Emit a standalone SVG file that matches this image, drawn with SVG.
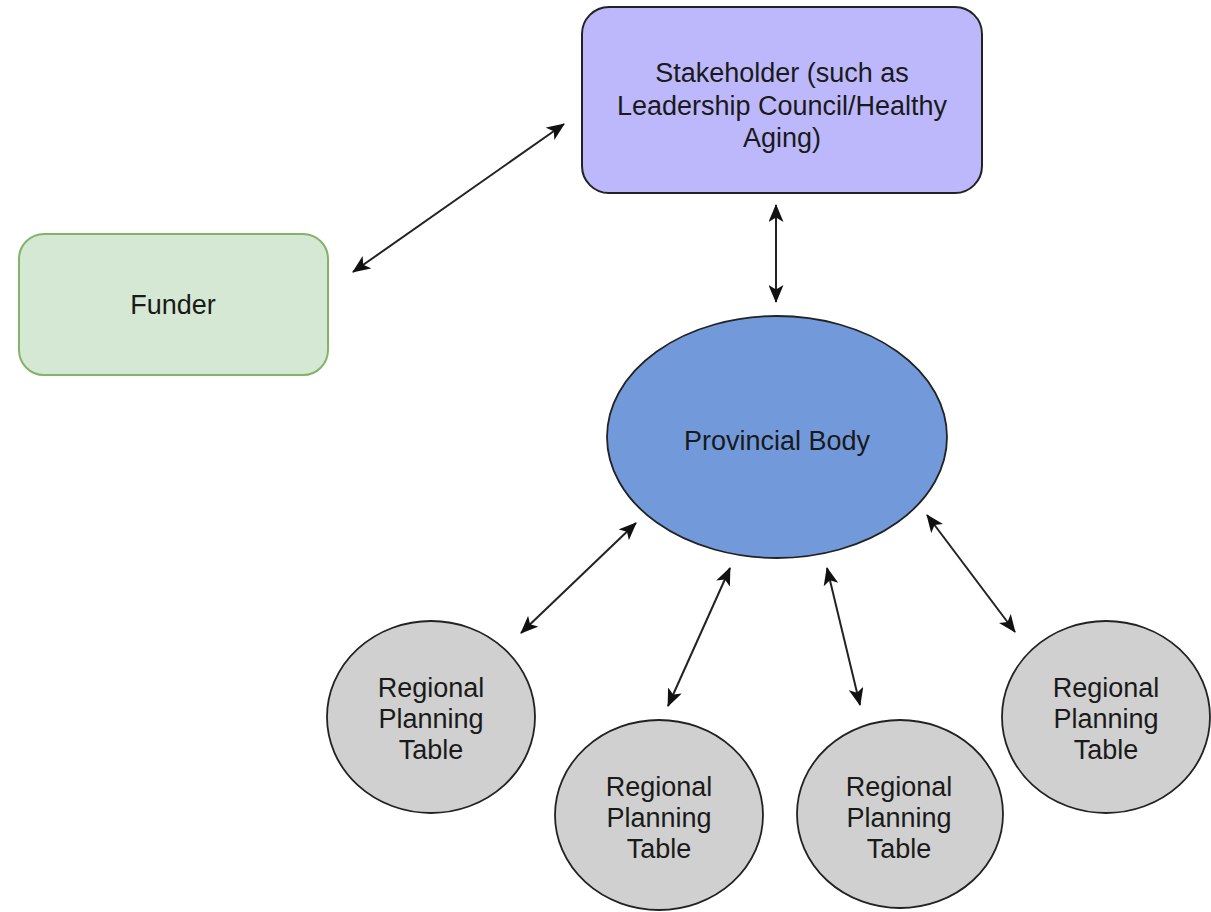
<svg xmlns="http://www.w3.org/2000/svg" width="1211" height="912" viewBox="0 0 1211 912">
<style>
text{font-family:"Liberation Sans",Arial,Helvetica,sans-serif;font-size:27px;fill:#1a1a1a;text-anchor:middle}
.conn line{stroke:#222;stroke-width:2;marker-start:url(#ah);marker-end:url(#ah)}
.rpt{fill:#d0d0d0;stroke:#222;stroke-width:1.8}
</style>
<defs>
<marker id="ah" viewBox="0 0 18 15" refX="17" refY="7.5" markerWidth="18" markerHeight="15" markerUnits="userSpaceOnUse" orient="auto-start-reverse">
<path d="M0,0 L18,7.5 L0,15 L4.5,7.5 Z" fill="#111"/>
</marker>
</defs>
<rect width="1211" height="912" fill="#fff"/>
<g id="stakeholder">
<rect x="582" y="7" width="400" height="186" rx="27" ry="27" fill="#bcb8fb" stroke="#222" stroke-width="2"/>
<text x="782" y="82">Stakeholder (such as</text>
<text x="782" y="115">Leadership Council/Healthy</text>
<text x="782" y="147">Aging)</text>
</g>
<g id="funder">
<rect x="19" y="234" width="309" height="141" rx="25" ry="25" fill="#d5e8d4" stroke="#82b366" stroke-width="2"/>
<text x="173" y="314">Funder</text>
</g>
<g id="provincial">
<ellipse cx="777" cy="437" rx="170" ry="121" fill="#7299da" stroke="#222" stroke-width="1.8"/>
<text x="777" y="450">Provincial Body</text>
</g>
<g id="rpt1">
<ellipse class="rpt" cx="431" cy="717" rx="104" ry="96"/>
<text x="431" y="697">Regional</text>
<text x="431" y="728">Planning</text>
<text x="431" y="759">Table</text>
</g>
<g id="rpt2">
<ellipse class="rpt" cx="659" cy="815" rx="104" ry="95"/>
<text x="659" y="796">Regional</text>
<text x="659" y="827">Planning</text>
<text x="659" y="858">Table</text>
</g>
<g id="rpt3">
<ellipse class="rpt" cx="900" cy="814" rx="103" ry="94"/>
<text x="899" y="796">Regional</text>
<text x="899" y="827">Planning</text>
<text x="899" y="858">Table</text>
</g>
<g id="rpt4">
<ellipse class="rpt" cx="1106" cy="717" rx="104" ry="96"/>
<text x="1106" y="697">Regional</text>
<text x="1106" y="728">Planning</text>
<text x="1106" y="759">Table</text>
</g>
<g id="connectors" class="conn">
<line x1="353" y1="272" x2="564" y2="124"/>
<line x1="776" y1="205" x2="776" y2="302"/>
<line x1="636" y1="523" x2="521" y2="633"/>
<line x1="730" y1="568" x2="668" y2="706"/>
<line x1="827" y1="568" x2="860" y2="705"/>
<line x1="927" y1="515" x2="1015" y2="632"/>
</g>
</svg>
